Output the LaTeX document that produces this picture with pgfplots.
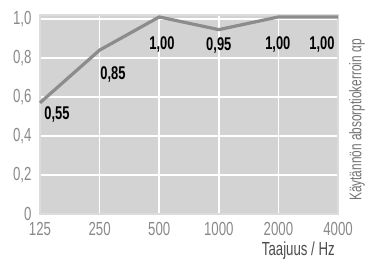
\documentclass[border=0pt]{standalone}
\usepackage{fontspec}
\setmainfont{Liberation Sans}[FakeStretch=0.7]
\usepackage{pgfplots}
\pgfplotsset{compat=1.18}
\definecolor{cellgray}{HTML}{D3D3D3}
\definecolor{framegray}{HTML}{DCDCDC}
\definecolor{linegray}{HTML}{8C8C8C}
\definecolor{ticktext}{HTML}{8A8A8A}
\begin{document}
\begin{tikzpicture}[x=1bp,y=1bp]
\begin{axis}[
  scale only axis,
  width=298bp, height=199bp,
  xmin=0, xmax=5, ymin=0, ymax=1.02,
  axis background/.style={fill=cellgray},
  axis line style={framegray, line width=1.5bp},
  grid=major,
  grid style={white, line width=1.6bp},
  xtick={0,1,2,3,4,5},
  xticklabels={125,250,500,1000,2000,4000},
  ytick={0,0.2,0.4,0.6,0.8,1.0},
  yticklabels={0,{0,2},{0,4},{0,6},{0,8},{1,0}},
  major tick length=0pt,
  tick label style={font=\fontsize{19}{20}\selectfont, text=ticktext},
  xticklabel style={yshift=-5bp},
  yticklabel style={xshift=-5bp},
  clip=false,
]
\addplot[linegray, line width=3.2bp, line join=round] coordinates {
  (0,0.57) (1,0.84) (2,1.01) (3,0.945) (4,1.01) (5,1.01)
};
\coordinate (bl) at (rel axis cs:0,0);
\coordinate (tr) at (rel axis cs:1,1);
\begin{scope}[every node/.style={anchor=north, inner sep=0pt, font=\bfseries\fontsize{18.5}{20}\selectfont}]
\node at (axis cs:0.285,0.549) {0,55};
\node at (axis cs:1.225,0.754) {0,85};
\node at (axis cs:2.047,0.908) {1,00};
\node at (axis cs:3.0,0.903) {0,95};
\node at (axis cs:3.99,0.908) {1,00};
\node at (axis cs:4.73,0.908) {1,00};
\end{scope}
\end{axis}
\node[anchor=north east, inner sep=0pt, text=black!70, font=\fontsize{19}{20}\selectfont] at ([shift={(-3bp,-28bp)}]bl -| tr) {Taajuus / Hz};
\node[rotate=90, anchor=center, inner sep=0pt, text=black!55, font=\fontsize{17}{18}\selectfont] at ([shift={(19bp,-105bp)}]tr) {Käytännön absorptiokerroin αp};
\useasboundingbox ([shift={(-40bp,-45bp)}]bl) rectangle ([shift={(32bp,15bp)}]tr);
\end{tikzpicture}
\end{document}
